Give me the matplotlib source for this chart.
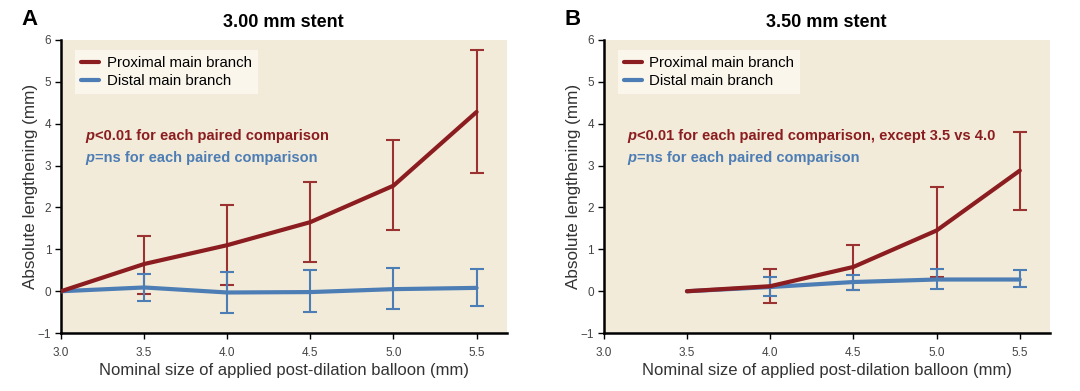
import matplotlib
matplotlib.use("Agg")
import matplotlib.pyplot as plt

plt.rcParams["font.family"] = ["Liberation Sans", "DejaVu Sans"]

# x positions: nominal balloon size (mm)
sizes_a = [3.0, 3.5, 4.0, 4.5, 5.0, 5.5]
sizes_b = [3.5, 4.0, 4.5, 5.0, 5.5]

# Panel A: 3.00 mm stent
prox_a = [0.0, 0.65, 1.10, 1.65, 2.52, 4.28]
prox_a_hi = [0.0, 1.33, 2.07, 2.60, 3.60, 5.77]
prox_a_lo = [0.0, -0.07, 0.15, 0.70, 1.45, 2.82]
dist_a = [0.0, 0.09, -0.03, -0.02, 0.05, 0.08]
dist_a_hi = [0.0, 0.42, 0.47, 0.50, 0.56, 0.54]
dist_a_lo = [0.0, -0.23, -0.53, -0.50, -0.42, -0.35]

# Panel B: 3.50 mm stent
prox_b = [0.0, 0.12, 0.58, 1.45, 2.88]
prox_b_hi = [0.0, 0.53, 1.10, 2.50, 3.80]
prox_b_lo = [0.0, -0.28, 0.03, 0.35, 1.93]
dist_b = [0.0, 0.10, 0.22, 0.28, 0.28]
dist_b_hi = [0.0, 0.33, 0.38, 0.52, 0.50]
dist_b_lo = [0.0, -0.12, 0.04, 0.05, 0.09]

xticks = [3.0, 3.5, 4.0, 4.5, 5.0, 5.5]
yticks = [-1, 0, 1, 2, 3, 4, 5, 6]

RED = "#8B1C1F"
RED_ERR = "#9A3232"
BLUE = "#4D7DB5"
BG = "#F2EBD9"

fig = plt.figure(figsize=(10.8, 3.91), dpi=100)
ax_a = fig.add_axes([0.0565, 0.148, 0.4125, 0.75])
ax_b = fig.add_axes([0.559, 0.148, 0.413, 0.75])


def draw_panel(ax, x, prox, phi, plo, dist, dhi, dlo, letter, title, note):
    ax.set_facecolor(BG)
    # error bars (skip the zero reference point)
    ex = [v for v, h in zip(x, phi) if h != 0]
    for vals, hi, lo, c in [(prox, phi, plo, RED_ERR), (dist, dhi, dlo, BLUE)]:
        mid = [v for v, h in zip(vals, hi) if h != 0]
        h2 = [h for h in hi if h != 0]
        l2 = [l for l, h in zip(lo, hi) if h != 0]
        yerr = [[m - l for m, l in zip(mid, l2)], [h - m for m, h in zip(mid, h2)]]
        ax.errorbar(ex, mid, yerr=yerr, fmt="none", ecolor=c, elinewidth=1.5,
                    capsize=5, capthick=1.5, zorder=2)
    ax.plot(x, dist, color=BLUE, lw=3, solid_capstyle="round", label="Distal main branch", zorder=3)
    ax.plot(x, prox, color=RED, lw=3, solid_capstyle="round", label="Proximal main branch", zorder=4)

    ax.set_xlim(3.0, 5.68)
    ax.set_ylim(-1, 6)
    ax.set_xticks(xticks)
    ax.set_xticklabels([f"{v:.1f}" for v in xticks])
    ax.set_yticks(yticks)
    ax.set_yticklabels([str(v).replace("-", "\u2212") for v in yticks])
    ax.tick_params(labelsize=8.5, length=4, width=1)
    ax.tick_params(axis="x", pad=6)
    ax.tick_params(axis="y", pad=3)
    for lbl in ax.get_xticklabels() + ax.get_yticklabels():
        lbl.set_color("#444444")
    for s in ["top", "right"]:
        ax.spines[s].set_visible(False)
    for s in ["left", "bottom"]:
        ax.spines[s].set_linewidth(1.8)

    ax.set_xlabel("Nominal size of applied post-dilation balloon (mm)", fontsize=12, color="#333333", labelpad=3)
    ax.set_ylabel("Absolute lengthening (mm)", fontsize=12.3, color="#333333", labelpad=-0.5)
    ax.set_title(title, fontsize=13, fontweight="bold", pad=9)
    ax.text(-0.088, 1.07, letter, transform=ax.transAxes, fontsize=16, fontweight="bold", va="center")

    handles, labels = ax.get_legend_handles_labels()
    leg = ax.legend(handles[::-1], labels[::-1], loc="upper left", fontsize=10.8, frameon=True,
                    fancybox=False, edgecolor="none", facecolor="#FAF6EC", framealpha=1,
                    handlelength=1.2, handletextpad=0.5, borderpad=0.4, labelspacing=0.25,
                    bbox_to_anchor=(0.015, 0.99))
    leg.get_frame().set_linewidth(0)

    for y, rest, c in [(0.66, note, RED), (0.585, "=ns for each paired comparison", BLUE)]:
        p = ax.text(0.054, y, "p", transform=ax.transAxes, fontsize=10.5, fontweight="bold",
                    style="italic", color=c, va="baseline")
        ax.annotate(rest, xy=(1, 0), xycoords=p, xytext=(0.5, 0), textcoords="offset points",
                    fontsize=10.5, fontweight="bold", color=c, va="bottom")


draw_panel(ax_a, sizes_a, prox_a, prox_a_hi, prox_a_lo, dist_a, dist_a_hi, dist_a_lo,
           "A", "3.00 mm stent", "<0.01 for each paired comparison")
draw_panel(ax_b, sizes_b, prox_b, prox_b_hi, prox_b_lo, dist_b, dist_b_hi, dist_b_lo,
           "B", "3.50 mm stent", "<0.01 for each paired comparison, except 3.5 vs 4.0")

fig.savefig("out.png", dpi=100, facecolor="white")
